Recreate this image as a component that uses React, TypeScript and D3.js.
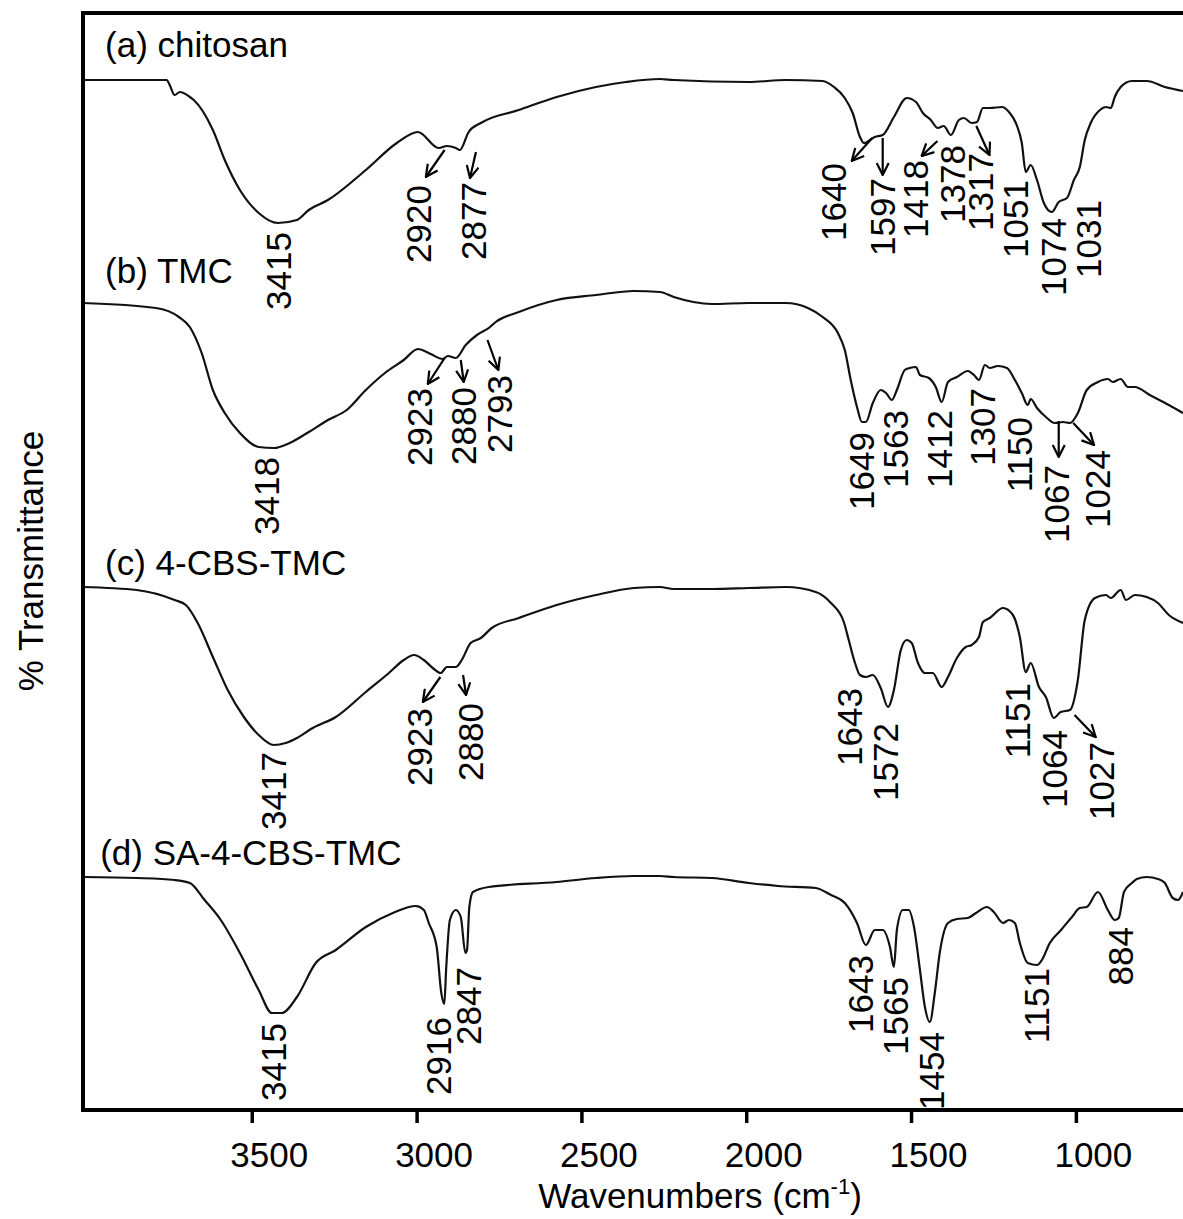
import { useEffect, useRef } from 'react';
import * as d3 from 'd3';

// ── Spectra: [wavenumber cm-1, stacked % transmittance] ────────────────────────
const chitosan: [number, number][] = [
  [4012, 103.0], [3758, 103.0], [3749, 102.5], [3734, 101.5], [3718, 101.8], [3688, 101.3],
  [3676, 101.0], [3618, 98.0], [3582, 95.0], [3536, 92.0], [3479, 89.7], [3421, 88.7],
  [3363, 89.0], [3327, 90.0], [3269, 91.0], [3154, 94.0], [3060, 96.7], [2996, 97.8],
  [2933, 96.2], [2908, 96.4], [2881, 96.2], [2869, 96.0], [2842, 97.8], [2805, 98.7],
  [2690, 100.0], [2575, 101.3], [2456, 102.3], [2365, 102.8], [2262, 103.1], [2220, 103.0],
  [1992, 102.8], [1880, 103.0], [1768, 102.9], [1734, 102.3], [1701, 101.2], [1677, 99.7],
  [1655, 97.3], [1643, 96.7], [1610, 97.3], [1586, 97.5], [1552, 99.3], [1513, 101.2],
  [1485, 100.8], [1464, 99.7], [1440, 99.0], [1419, 98.2], [1401, 98.4], [1379, 97.5],
  [1355, 99.0], [1340, 99.2], [1316, 98.7], [1300, 98.8], [1282, 100.2], [1261, 100.2],
  [1224, 100.3], [1203, 99.8], [1182, 98.7], [1164, 96.7], [1152, 93.8], [1137, 94.5],
  [1118, 93.0], [1097, 90.7], [1073, 89.8], [1052, 90.8], [1027, 91.2], [1006, 93.0],
  [988, 94.3], [973, 97.0], [955, 98.7], [927, 100.0], [909, 100.3], [894, 100.2],
  [882, 101.3], [864, 102.3], [830, 102.9], [785, 102.9], [730, 102.3], [675, 101.9],
];

const tmc: [number, number][] = [
  [4012, 80.7], [3791, 80.2], [3721, 79.3], [3688, 78.3], [3652, 75.7], [3618, 72.0],
  [3582, 69.7], [3536, 67.7], [3479, 66.3], [3433, 66.2], [3385, 66.7], [3327, 67.8],
  [3269, 69.0], [3212, 70.0], [3154, 72.0], [3096, 73.7], [3039, 75.0], [2996, 76.1],
  [2957, 75.6], [2921, 75.1], [2905, 75.4], [2881, 75.2], [2851, 76.5], [2817, 77.5],
  [2781, 78.2], [2760, 78.8], [2690, 79.8], [2575, 81.0], [2456, 81.5], [2341, 81.9],
  [2262, 81.8], [2220, 81.3], [2104, 80.6], [1992, 80.7], [1880, 80.7], [1813, 80.2],
  [1768, 79.3], [1722, 77.7], [1701, 76.0], [1683, 73.0], [1664, 70.3], [1649, 68.8],
  [1637, 68.8], [1616, 70.7], [1592, 72.0], [1576, 71.7], [1558, 71.0], [1543, 72.0],
  [1519, 74.0], [1504, 74.2], [1485, 74.3], [1473, 73.5], [1446, 73.2], [1425, 72.3],
  [1407, 70.8], [1388, 72.8], [1361, 73.3], [1328, 73.9], [1309, 73.5], [1294, 73.0],
  [1276, 74.5], [1261, 74.2], [1237, 74.4], [1209, 74.2], [1185, 73.0], [1164, 71.7],
  [1146, 70.5], [1137, 71.1], [1118, 70.2], [1091, 69.3], [1064, 68.7], [1039, 68.8],
  [1018, 68.7], [994, 69.7], [967, 72.0], [933, 72.8], [903, 73.1], [888, 72.8],
  [864, 73.1], [842, 72.3], [821, 72.3], [776, 71.5], [718, 70.5], [675, 69.7],
];

const cbsTmc: [number, number][] = [
  [4012, 52.3], [3849, 52.0], [3734, 51.0], [3700, 50.5], [3664, 48.7], [3618, 45.3],
  [3573, 42.0], [3524, 39.3], [3479, 37.5], [3433, 36.5], [3397, 36.7], [3363, 37.2],
  [3315, 38.2], [3245, 39.3], [3154, 41.8], [3084, 43.7], [3039, 45.0], [3008, 45.5],
  [2978, 45.0], [2951, 44.2], [2927, 43.7], [2908, 44.3], [2881, 44.3], [2863, 45.0],
  [2836, 46.7], [2805, 47.2], [2772, 48.2], [2690, 49.2], [2575, 50.5], [2456, 51.5],
  [2341, 52.2], [2262, 52.3], [2220, 52.1], [2104, 52.1], [1992, 52.2], [1880, 52.3],
  [1789, 51.8], [1743, 50.7], [1704, 48.8], [1689, 47.0], [1670, 44.7], [1655, 43.5],
  [1637, 43.3], [1616, 43.5], [1592, 42.2], [1570, 40.3], [1552, 42.0], [1531, 46.0],
  [1513, 47.0], [1498, 46.7], [1479, 44.7], [1458, 43.7], [1434, 43.7], [1407, 42.3],
  [1388, 43.3], [1361, 45.2], [1334, 46.3], [1316, 46.5], [1294, 47.3], [1282, 48.8],
  [1261, 49.2], [1221, 50.2], [1191, 49.5], [1170, 47.3], [1152, 43.8], [1137, 44.7],
  [1112, 42.3], [1091, 41.3], [1067, 39.2], [1046, 39.8], [1018, 40.0], [994, 43.0],
  [973, 49.0], [942, 51.2], [909, 51.5], [894, 51.2], [864, 52.0], [848, 51.0],
  [821, 51.5], [785, 51.3], [751, 50.7], [718, 49.5], [675, 48.7],
];

const saCbsTmc: [number, number][] = [
  [4012, 23.3], [3849, 23.2], [3734, 23.0], [3688, 22.7], [3643, 21.0], [3594, 19.0],
  [3536, 15.7], [3479, 12.0], [3439, 9.7], [3409, 9.7], [3363, 11.3], [3306, 14.7],
  [3245, 16.0], [3154, 18.3], [3072, 19.7], [3002, 20.4], [2978, 20.0], [2963, 18.7],
  [2939, 16.3], [2925, 11.7], [2916, 10.6], [2910, 14.3], [2899, 19.0], [2881, 20.0],
  [2866, 19.3], [2852, 15.7], [2847, 16.0], [2840, 20.3], [2829, 21.8], [2781, 22.3],
  [2575, 22.8], [2456, 23.2], [2341, 23.4], [2262, 23.4], [2220, 23.3], [2104, 23.2],
  [1992, 22.7], [1904, 22.4], [1789, 22.2], [1743, 21.5], [1701, 20.7], [1664, 18.7],
  [1637, 16.5], [1610, 18.0], [1586, 18.0], [1564, 16.3], [1552, 14.3], [1543, 18.0],
  [1525, 20.0], [1507, 20.0], [1491, 18.3], [1473, 14.0], [1458, 10.3], [1443, 8.8],
  [1428, 11.7], [1413, 15.7], [1388, 18.7], [1361, 19.1], [1328, 19.2], [1303, 19.7],
  [1270, 20.3], [1249, 19.8], [1221, 18.7], [1203, 19.0], [1185, 18.7], [1170, 16.7],
  [1146, 14.7], [1118, 14.5], [1103, 15.0], [1079, 16.7], [1045, 18.0], [1012, 19.3],
  [988, 20.2], [967, 20.3], [933, 21.8], [903, 20.0], [882, 19.0], [870, 19.2],
  [854, 21.8], [830, 22.7], [815, 23.1], [785, 23.3], [751, 23.1], [730, 22.7],
  [706, 21.2], [690, 21.0], [675, 21.8],
];

const seriesNames = ['(a) chitosan', '(b) TMC', '(c) 4-CBS-TMC', '(d) SA-4-CBS-TMC'];
// where each name sits: [wavenumber, transmittance]
const namePos: [number, number][] = [[3945, 105.3], [3945, 82.7], [3945, 53.5], [3960, 24.5]];

// peak labels: [text, wavenumber of label, transmittance at top of label]
const peakLabels: [string, number, number][] = [
  ['3415', 3418, 87.8], ['2920', 2993, 92.5], ['2877', 2826, 92.8], ['1640', 1734, 94.7],
  ['1597', 1586, 93.2], ['1418', 1485, 95.0], ['1378', 1373, 96.5], ['1317', 1288, 95.7],
  ['1051', 1182, 93.0], ['1074', 1067, 89.2], ['1031', 961, 91.0],
  ['3418', 3454, 65.3], ['2923', 2990, 72.2], ['2880', 2857, 72.3], ['2793', 2748, 73.5],
  ['1649', 1649, 67.8], ['1563', 1546, 70.0], ['1412', 1413, 70.0], ['1307', 1282, 72.2],
  ['1150', 1170, 69.3], ['1067', 1058, 64.5], ['1024', 933, 66.0],
  ['3417', 3433, 35.8], ['2923', 2990, 40.2], ['2880', 2836, 40.7], ['1643', 1686, 42.2],
  ['1572', 1576, 38.7], ['1151', 1176, 42.7], ['1064', 1064, 38.0], ['1027', 921, 36.8],
  ['3415', 3433, 8.7], ['2916', 2933, 9.3], ['2847', 2842, 14.3], ['1643', 1652, 15.5],
  ['1565', 1546, 13.3], ['1454', 1437, 7.8], ['1151', 1118, 14.2], ['884', 863, 18.3],
];

// arrows: [from wavenumber, from T, to wavenumber, to T] (head at "to")
const arrows: [number, number, number, number][] = [
  [2915, 96.0, 2972, 93.3], [2820, 95.8, 2838, 93.2],
  [1618, 97.2, 1680, 94.9], [1586, 97.2, 1586, 93.5], [1420, 96.9, 1468, 95.4], [1302, 98.4, 1262, 95.5],
  [2915, 75.2, 2966, 72.6], [2866, 75.0, 2857, 72.8], [2785, 77.0, 2752, 74.0],
  [1052, 68.9, 1052, 65.3], [1008, 68.7, 945, 66.5],
  [2928, 43.3, 2981, 40.8], [2859, 43.5, 2850, 41.5], [1004, 39.5, 940, 37.3],
];

const xTicks = [3500, 3000, 2500, 2000, 1500, 1000];

const W = 1183;
const H = 1219;
const FONT = '"Liberation Sans", Arial, Helvetica, sans-serif';

export default function App() {
  const axisRef = useRef<SVGGElement>(null);

  const x = d3.scaleLinear().domain([4012, 675]).range([83, 1183]);
  const y = d3.scaleLinear().domain([0, 109.7]).range([1110, 13]);

  const line = d3.line<[number, number]>()
    .x(d => x(d[0]))
    .y(d => y(d[1]))
    .curve(d3.curveMonotoneX);

  useEffect(() => {
    if (!axisRef.current) return;
    const g = d3.select(axisRef.current);
    g.selectAll('*').remove();
    g.call(d3.axisBottom(x).tickValues(xTicks).tickSize(13).tickPadding(4).tickFormat(d3.format('d')))
      .call(ax => ax.select('.domain').remove())
      .call(ax => ax.selectAll('line').attr('stroke', '#000').attr('stroke-width', 3.5))
      .call(ax => ax.selectAll('text')
        .attr('fill', '#000')
        .attr('font-size', 35)
        .attr('font-family', FONT)
        .attr('dx', 17)
        .attr('dy', 0)
        .attr('y', 57));
  }, []);

  const series = [chitosan, tmc, cbsTmc, saCbsTmc];

  return (
    <svg width={W} height={H} style={{ position: 'absolute', left: 0, top: 0, background: '#fff' }}
      fontFamily={FONT}>
      <defs>
        <marker id="head" viewBox="0 0 14 14" refX="13" refY="7" markerWidth="14" markerHeight="14"
          markerUnits="userSpaceOnUse" orient="auto">
          <path d="M1,1 L13,7 L1,13" fill="none" stroke="#000" strokeWidth="2.2" />
        </marker>
      </defs>

      {/* spectra */}
      {series.map((s, i) => (
        <path key={i} d={line(s) ?? ''} fill="none" stroke="#111" strokeWidth={2.2} strokeLinejoin="round" />
      ))}

      {/* sample names */}
      {seriesNames.map((n, i) => (
        <text key={n} x={x(namePos[i][0])} y={y(namePos[i][1])} fontSize={35} fill="#000">{n}</text>
      ))}

      {/* peak labels */}
      {peakLabels.map(([t, w, v], i) => (
        <text key={i} transform={`translate(${x(w)},${y(v)}) rotate(-90)`} textAnchor="end" dy="0.35em"
          fontSize={35} fill="#000">{t}</text>
      ))}

      {/* arrows */}
      {arrows.map(([w1, v1, w2, v2], i) => (
        <line key={i} x1={x(w1)} y1={y(v1)} x2={x(w2)} y2={y(v2)} stroke="#000" strokeWidth={2.2}
          markerEnd="url(#head)" />
      ))}

      {/* frame */}
      <path d={`M${W + 10},${y(109.7)} H${x(4012)} V${y(0)} H${W + 10}`} fill="none" stroke="#000"
        strokeWidth={4} />

      <g ref={axisRef} transform={`translate(0,${y(0)})`} />

      <text x={700} y={1208} textAnchor="middle" fontSize={35} fill="#000">
        Wavenumbers (cm<tspan fontSize={22} dy={-14}>-1</tspan><tspan dy={14}>)</tspan>
      </text>
      <text transform={`translate(31,561) rotate(-90)`} textAnchor="middle" dy="0.35em" fontSize={35}
        fill="#000">% Transmittance</text>
    </svg>
  );
}
